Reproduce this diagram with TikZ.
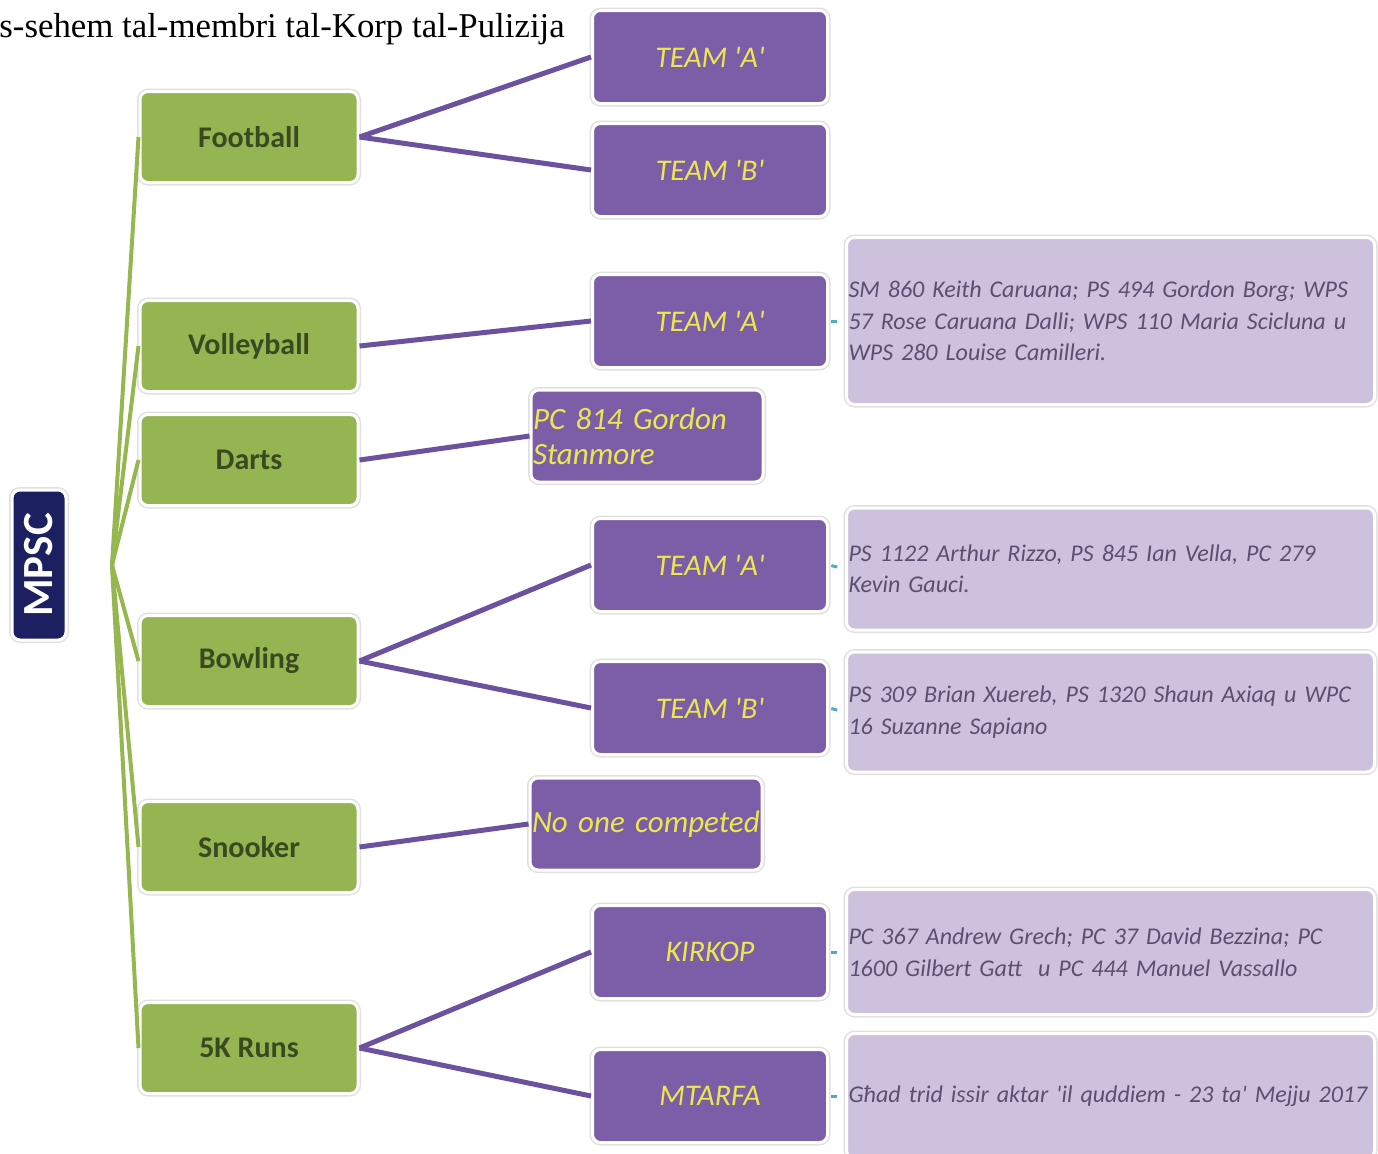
\documentclass[tikz,border=0pt]{standalone}
\usepackage{fontspec}
\setmainfont{Liberation Serif}
\newfontfamily\calfont{Carlito}
\usetikzlibrary{positioning}

\definecolor{sportgreen}{RGB}{148,181,82}
\definecolor{sporttext}{RGB}{58,74,32}
\definecolor{teampurple}{RGB}{124,94,168}
\definecolor{teamyellow}{RGB}{236,232,76}
\definecolor{namelilac}{RGB}{205,193,221}
\definecolor{nametext}{RGB}{92,78,112}
\definecolor{mpscblue}{RGB}{28,32,96}
\definecolor{linkteal}{RGB}{75,172,198}
\definecolor{linkgreen}{RGB}{150,182,80}
\definecolor{linkpurple}{RGB}{108,82,158}

\newcommand{\sq}{\textquotesingle}

\tikzset{
  box/.style={rounded corners=4pt, draw=white, line width=1.5pt,
    preaction={draw=black!12, line width=3pt}, inner sep=1pt},
  root/.style={box, fill=mpscblue, rotate=90, minimum width=75pt, minimum height=27pt,
    text=white, font=\calfont\bfseries\fontsize{21.5}{24}\selectfont},
  sport/.style={box, fill=sportgreen, minimum width=109pt, minimum height=45.5pt,
    text=sporttext, font=\calfont\bfseries\fontsize{15}{18}\selectfont},
  team/.style={box, fill=teampurple, minimum width=117.5pt, minimum height=46.5pt,
    text=teamyellow, font=\calfont\itshape\fontsize{15}{18}\selectfont},
  player/.style={box, fill=teampurple, minimum width=116pt, minimum height=46pt,
    text width=114pt, align=left,
    text=teamyellow, font=\calfont\itshape\fontsize{15.5}{17.5}\selectfont},
  members/.style={box, fill=namelilac, text width=262pt, align=left,
    text=nametext, font=\calfont\itshape\fontsize{12}{15.75}\selectfont},
  sportlink/.style={draw=linkgreen, line width=2pt},
  teamlink/.style={draw=linkpurple, line width=2.5pt},
  namelink/.style={draw=linkteal, line width=1.5pt, shorten <=1.2pt, shorten >=4pt}
}

\begin{document}
\begin{tikzpicture}[x=0.5pt, y=-0.5pt]
    \useasboundingbox (0,0) rectangle (1378,1153);

    \node[anchor=base west, inner sep=0, font=\fontsize{17.4}{20}\selectfont] (title) at (-1,37)
      {s-sehem tal-membri tal-Korp tal-Pulizija};

    \node[root] (mpsc) at (39,565) {MPSC};
    \coordinate (hub) at (112,565);

    % sports
    \node[sport] (s1) at (249,137) {Football};
    \node[sport] (s2) at (249,346) {Volleyball};
    \node[sport] (s3) at (249,460) {Darts};
    \node[sport] (s4) at (249,661) {Bowling};
    \node[sport] (s5) at (249,847) {Snooker};
    \node[sport] (s6) at (249,1048) {5K Runs};

    % teams
    \node[team] (t1) at (710,57) {TEAM \sq A\sq};
    \node[team] (t2) at (710,170) {TEAM \sq B\sq};
    \node[team] (t3) at (710,321) {TEAM \sq A\sq};
    \node[team] (t4) at (710,565) {TEAM \sq A\sq};
    \node[team] (t5) at (710,708) {TEAM \sq B\sq};
    \node[team] (t6) at (710,952) {KIRKOP};
    \node[team] (t7) at (710,1096) {MTARFA};

    \node[player] (p1) at (647,436) {PC 814 Gordon\\Stanmore};
    \node[player] (p2) at (646,824) {\mbox{No one competed}};

    % members
    \node[members, minimum height=83.5pt, right=8pt of t3] (m1)
      {SM 860 Keith Caruana; PS 494 Gordon Borg; WPS\\57 Rose Caruana Dalli; WPS 110 Maria Scicluna u\\WPS 280 Louise Camilleri.};
    \node[members, minimum height=61pt, right=8pt of t4, yshift=-2pt] (m2)
      {PS 1122 Arthur Rizzo, PS 845 Ian Vella, PC 279\\Kevin Gauci.};
    \node[members, minimum height=60pt, right=8pt of t5, yshift=-2pt] (m3)
      {PS 309 Brian Xuereb, PS 1320 Shaun Axiaq u WPC\\16 Suzanne Sapiano};
    \node[members, minimum height=62.5pt, right=8pt of t6] (m4)
      {PC 367 Andrew Grech; PC 37 David Bezzina; PC\\1600 Gilbert Gatt\ \ u PC 444 Manuel Vassallo};
    \node[members, minimum height=62.5pt, right=8pt of t7] (m5)
      {\mbox{Għad trid issir aktar \sq il quddiem - 23 ta\sq{} Mejju 2017}};

    \foreach \i in {1,...,6}
      \draw[sportlink] (hub) -- (s\i.west);

    \draw[teamlink] (s1.east) -- (t1.west);
    \draw[teamlink] (s1.east) -- (t2.west);
    \draw[teamlink] (s2.east) -- (t3.west);
    \draw[teamlink] (s3.east) -- (p1.west);
    \draw[teamlink] (s4.east) -- (t4.west);
    \draw[teamlink] (s4.east) -- (t5.west);
    \draw[teamlink] (s5.east) -- (p2.west);
    \draw[teamlink] (s6.east) -- (t6.west);
    \draw[teamlink] (s6.east) -- (t7.west);

    \draw[namelink] (t3.east) -- (m1.west);
    \draw[namelink] (t4.east) -- (m2.west);
    \draw[namelink] (t5.east) -- (m3.west);
    \draw[namelink] (t6.east) -- (m4.west);
    \draw[namelink] (t7.east) -- (m5.west);
\end{tikzpicture}
\end{document}
